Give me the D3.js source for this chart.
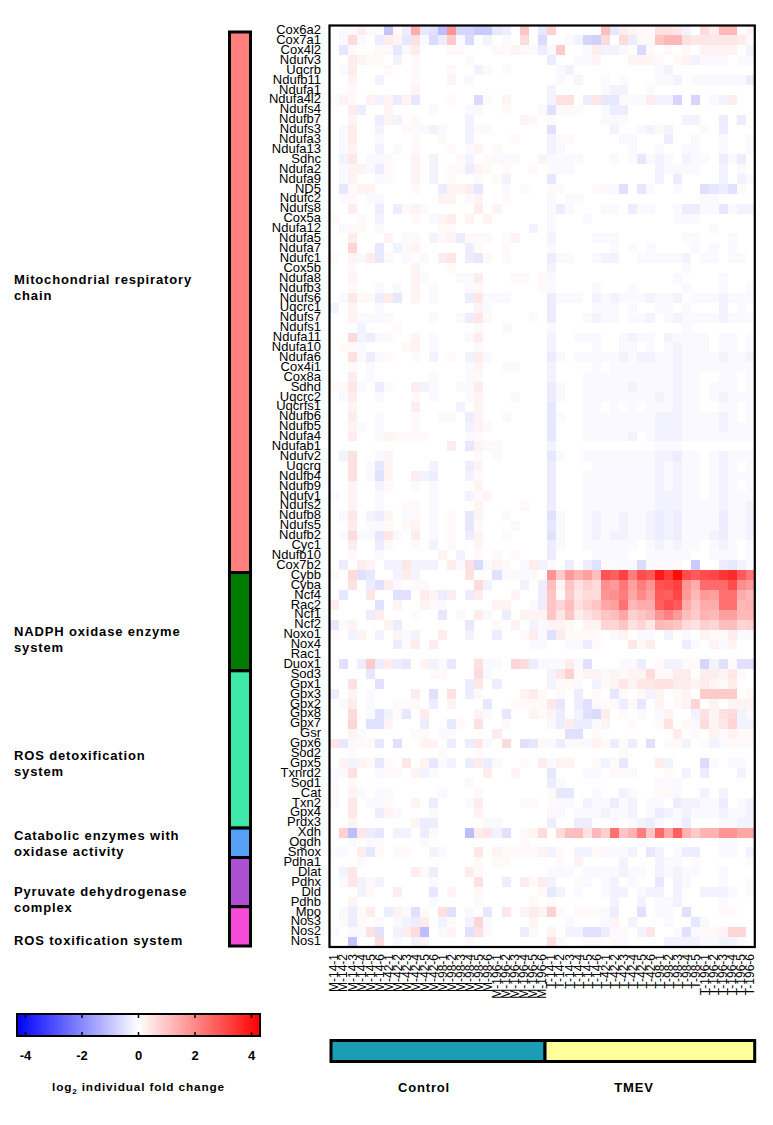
<!DOCTYPE html>
<html>
<head>
  <title>Oxidative stress genes heatmap</title>
  <script src="https://d3js.org/d3.v7.min.js"></script>
  <style>
    body { margin: 0; background: white; }
    svg { display: block; }
    text { font-family: "Liberation Sans", Arial, sans-serif; fill: black; }
    .bold { font-weight: bold; letter-spacing: 0.85px; }
  </style>
</head>
<body>
<script type="text/javascript">
  var w = 773;
  var h = 1125;

  var columns = [
    "M-14-1","M-14-2","M-14-3","M-14-4","M-14-5","M-14-6",
    "M-42-1","M-42-2","M-42-3","M-42-4","M-42-5","M-42-6",
    "M-98-1","M-98-2","M-98-3","M-98-4","M-98-5","M-98-6",
    "M-196-1","M-196-2","M-196-3","M-196-4","M-196-5","M-196-6",
    "T-14-1","T-14-2","T-14-3","T-14-4","T-14-5","T-14-6",
    "T-42-1","T-42-2","T-42-3","T-42-4","T-42-5","T-42-6",
    "T-98-1","T-98-2","T-98-3","T-98-4","T-98-5",
    "T-196-1","T-196-2","T-196-3","T-196-4","T-196-5","T-196-6"
  ];

  var mitoGenes = ["Cox6a2","Cox7a1","Cox4l2","Ndufv3","Uqcrb","Ndufb11","Ndufa1","Ndufa4l2","Ndufs4","Ndufb7","Ndufs3","Ndufa3","Ndufa13","Sdhc","Ndufa2","Ndufa9","ND5","Ndufc2","Ndufs8","Cox5a","Ndufa12","Ndufa5","Ndufa7","Ndufc1","Cox5b","Ndufa8","Ndufb3","Ndufs6","Uqcrc1","Ndufs7","Ndufs1","Ndufa11","Ndufa10","Ndufa6","Cox4i1","Cox8a","Sdhd","Uqcrc2","Uqcrfs1","Ndufb6","Ndufb5","Ndufa4","Ndufab1","Ndufv2","Uqcrq","Ndufb4","Ndufb9","Ndufv1","Ndufs2","Ndufb8","Ndufs5","Ndufb2","Cyc1","Ndufb10","Cox7b2"];
  var nadphGenes = ["Cybb","Cyba","Ncf4","Rac2","Ncf1","Ncf2","Noxo1","Nox4","Rac1","Duox1"];
  var detoxGenes = ["Sod3","Gpx1","Gpx3","Gpx2","Gpx8","Gpx7","Gsr","Gpx6","Sod2","Gpx5","Txnrd2","Sod1","Cat","Txn2","Gpx4","Prdx3"];
  var catabolicGenes = ["Xdh","Ogdh","Smox"];
  var pyruvateGenes = ["Pdha1","Dlat","Pdhx","Dld","Pdhb"];
  var toxGenes = ["Mpo","Nos3","Nos2","Nos1"];

  // log2 fold change, one row per gene, one value per column
  var mitoValues = [
    [0,-.1,-.1,.3,.1,-.1, -1,.1,-.3,1.4,-.4,-.5, -1.1,1.8,-.7,-.7,-.9,-.9, -.4,-.3,0,1,0,-.4, .8,0,0,0,0,0, 1.1,-.4,.3,.2,.1,.1, .5,.5,.4,-.2,0, .6,.3,1.2,1.2,0,.2],
    [0,-.1,.6,-.1,0,-.3, .3,.2,-.4,.5,-.1,-.6, -.3,.9,-.1,-.6,0,-.2, 0,-.1,0,.6,0,-.6, 0,0,-.1,-.2,-.7,-.8, .6,0,.6,-.3,.1,.1, 1,1.2,1.2,.5,.4, .4,.4,.4,.4,.3,.1],
    [0,-.4,.1,0,0,.1, .1,-.4,-.1,.3,0,0, 0,.1,.1,0,0,0, .1,.1,.2,.1,-.1,-.3, -.1,.9,0,0,-.1,.3, -.2,-.2,-.1,0,-.6,.1, 0,.1,0,.1,0, .2,.2,.2,.2,0,-.2],
    [0,0,.3,.2,.1,.1, 0,-.2,0,.1,0,0, 0,0,0,-.1,0,0, 0,0,0,0,0,0, -.3,0,0,-.1,-.1,.2, 0,0,0,.2,.2,.2, .1,0,.1,.2,-.2, -.1,-.1,-.1,0,-.1,-.1],
    [0,-.1,.3,0,0,0, .1,0,0,.1,0,0, 0,.1,0,0,-.2,.1, 0,.1,0,0,0,0, 0,-.1,-.2,0,0,0, 0,0,0,0,0,0, -.1,-.2,0,0,0, 0,0,0,0,0,0],
    [0,0,.2,0,0,-.2, 0,0,0,.1,0,0, 0,.2,0,-.1,0,0, 0,0,0,0,0,0, 0,-.1,0,.2,0,0, .1,0,.1,0,0,0, -.1,-.1,-.2,0,-.1, -.1,-.1,-.1,-.1,-.1,-.3],
    [0,0,.1,0,0,0, 0,0,0,.2,0,0, 0,0,0,0,0,0, 0,0,0,0,0,0, -.2,0,0,0,0,0, -.1,-.2,-.2,0,0,-.1, 0,0,0,0,0, 0,0,0,0,0,0],
    [-.1,.2,.1,0,.2,-.2, .2,-.3,.2,-.4,0,0, 0,.1,0,0,-.6,.1, 0,.2,0,0,0,0, -.2,.5,.5,0,-.3,.4, -.4,-.4,.1,-.1,-.1,.3, -.2,-.2,-.7,0,-.7, 0,-.1,-.2,.3,0,0],
    [0,0,.3,-.3,0,0, .2,0,0,0,0,-.1, 0,0,0,-.1,-.1,0, 0,.1,0,0,0,-.1, -.5,.1,.1,.1,0,0, -.1,-.3,-.3,0,0,0, 0,0,0,0,0, 0,0,0,0,0,0],
    [0,0,.2,0,0,-.3, .2,-.2,0,.1,0,0, 0,0,0,-.2,0,0, 0,0,0,.2,.1,0, .1,0,0,0,0,0, -.1,-.1,.1,0,0,0, 0,0,0,-.2,-.2, 0,0,-.3,0,-.3,0],
    [0,-.1,.3,0,0,-.2, 0,0,.1,.1,-.1,-.2, -.1,0,0,-.2,.1,.1, 0,0,0,0,0,0, -.5,0,0,0,0,0, 0,-.2,0,0,-.1,-.2, .1,-.2,0,0,0, .1,0,-.3,0,0,0],
    [0,-.1,.3,0,0,-.1, 0,0,0,.1,0,0, .1,0,0,-.2,0,0, 0,0,.1,0,0,0, -.2,-.1,.1,0,0,0, 0,0,-.1,-.1,0,0, 0,-.3,0,0,-.1, 0,0,-.1,0,0,-.1],
    [0,-.1,.2,0,0,-.2, 0,-.1,0,.1,0,0, 0,.1,0,-.1,.2,0, .1,0,0,0,0,0, -.2,-.1,0,0,0,0, 0,0,0,-.1,0,0, -.1,0,0,-.1,-.1, 0,0,-.1,0,0,-.1],
    [0,-.2,.4,0,-.1,-.1, .1,0,0,.2,0,-.2, 0,0,.1,-.2,0,.1, -.1,-.1,.1,0,0,.2, -.1,-.1,-.1,-.1,0,0, 0,-.1,0,-.1,-.4,-.1, -.2,-.1,0,-.2,-.1, -.1,0,-.3,-.1,-.3,0],
    [0,-.1,.2,.2,-.1,-.3, .1,0,0,.2,0,-.2, 0,.1,.1,-.3,.2,.1, 0,.1,0,0,.1,0, -.1,-.1,-.1,0,0,0, 0,0,0,0,0,0, -.2,-.1,-.1,-.1,-.1, 0,0,-.2,0,-.1,0],
    [0,-.1,.2,0,0,-.1, .1,0,0,.2,0,-.2, 0,.1,0,0,.1,0, .1,-.2,0,0,0,0, -.4,0,0,0,0,0, 0,0,0,0,0,0, -.2,0,-.3,0,0, 0,0,-.2,0,-.2,-.1],
    [0,-.4,.1,.2,.2,0, 0,0,0,.1,0,0, -.3,.2,.2,.3,-.4,0, 0,-.1,0,.1,0,0, .1,.1,0,0,0,.1, -.1,-.1,-.5,0,-.4,-.1, 0,0,-.1,0,0, -.5,-.4,-.3,-.5,.1,0],
    [0,-.1,.1,0,-.1,-.1, 0,0,0,0,0,0, .2,.2,0,-.1,.2,0, 0,.1,0,0,0,0, -.1,0,-.1,.1,0,0, 0,0,0,0,0,0, 0,0,0,0,0, -.1,-.1,0,0,0,0],
    [0,0,.3,0,0,-.3, 0,-.3,.1,.2,.1,0, 0,0,0,0,.3,0, .2,0,0,0,0,0, -.1,-.3,-.1,0,0,0, -.1,-.1,0,-.3,-.1,-.1, 0,0,-.1,-.3,-.3, -.1,-.1,-.4,-.1,-.2,-.2],
    [.1,0,0,.1,0,-.2, 0,0,0,.1,0,-.1, .2,.3,0,.2,0,.2, 0,0,0,0,0,0, -.1,0,0,0,-.1,0, 0,0,0,0,0,0, 0,0,-.1,-.1,-.1, 0,0,0,0,0,0],
    [0,-.1,.1,.1,0,-.1, 0,0,0,0,0,0, .1,.1,0,0,0,0, 0,0,0,0,-.2,0, -.1,0,0,0,0,0, 0,0,0,0,0,0, 0,0,0,0,0, 0,-.1,0,0,0,0],
    [0,0,.3,0,0,0, .2,0,-.1,.1,0,-.2, .1,.2,-.3,.1,.1,.1, 0,.1,.2,0,0,0, -.2,0,0,0,0,-.1, -.1,-.1,0,0,0,0, 0,0,0,-.1,-.1, 0,0,0,-.1,0,0],
    [0,0,.7,0,0,-.4, 0,-.2,.1,.2,0,0, 0,0,0,-.3,.1,0, 0,.1,0,0,0,0, -.1,0,0,0,0,0, 0,-.1,0,-.1,0,-.1, 0,0,0,0,-.1, 0,-.1,0,-.1,0,0],
    [.1,0,.2,-.1,.3,-.4, .1,0,-.1,0,-.1,0, .3,.4,0,-.3,-.4,.1, 0,.1,0,0,0,0, -.3,-.1,-.1,0,0,-.1, -.2,-.2,0,0,-.1,-.1, -.1,-.1,-.1,-.2,0, -.1,-.1,0,-.1,-.1,0],
    [0,0,.1,0,0,0, 0,0,0,.2,0,0, 0,.1,0,0,0,0, 0,0,0,0,0,0, -.2,0,0,0,0,0, 0,0,0,0,0,0, 0,0,0,-.1,0, 0,0,0,0,0,0],
    [0,0,.2,0,0,0, 0,0,0,.2,-.1,0, 0,0,-.1,-.1,.3,0, 0,0,.1,.1,0,.1, -.1,0,0,0,0,0, 0,0,0,0,0,0, 0,0,-.1,0,0, 0,0,-.1,0,0,0],
    [0,0,.1,0,0,-.1, 0,-.1,0,.2,0,-.1, 0,0,0,-.1,.1,0, 0,0,0,0,0,.1, -.1,0,0,0,0,-.1, 0,0,0,-.1,0,0, 0,0,0,-.1,0, 0,0,-.1,0,0,-.1],
    [0,-.1,.4,.1,.1,-.3, .3,-.4,0,.2,0,-.1, 0,0,0,-.3,.4,-.1, -.1,-.1,0,0,0,0, -.3,-.1,-.1,-.1,0,-.2, -.1,-.2,-.1,-.1,-.1,-.2, -.1,-.1,-.2,0,-.1, -.1,-.1,-.2,-.1,-.1,-.1],
    [-.2,0,.2,0,0,-.1, 0,0,0,0,0,0, 0,0,0,0,.2,-.1, 0,0,0,0,0,0, -.3,0,0,0,0,-.1, -.1,-.1,0,-.1,0,0, -.1,-.1,0,-.1,0, 0,0,-.2,0,-.1,0],
    [0,0,.2,-.1,-.1,-.1, .1,0,0,0,0,-.1, 0,0,-.1,-.3,.4,.1, 0,0,0,0,.1,0, -.3,0,0,0,-.1,-.2, -.1,-.1,0,-.1,-.1,-.2, 0,-.1,-.2,-.1,-.1, -.1,-.1,-.2,-.1,-.1,-.1],
    [0,0,0,-.2,0,0, 0,.1,0,0,0,0, 0,0,0,0,.1,0, 0,-.1,0,0,0,0, -.1,0,0,0,0,0, 0,0,0,0,0,0, 0,0,0,-.1,0, 0,0,0,0,0,0],
    [0,0,.6,-.2,-.3,-.1, .1,0,0,.2,0,-.1, 0,0,0,-.1,.3,0, 0,0,0,0,0,0, -.2,0,0,-.1,-.1,-.1, 0,0,-.1,-.2,-.1,-.1, 0,-.2,-.1,-.1,-.1, -.1,0,-.1,-.1,0,-.1],
    [0,.1,.1,-.1,0,0, 0,0,.1,.2,0,-.1, 0,0,0,0,.1,0, 0,0,0,0,0,0, -.2,0,0,0,0,-.1, 0,0,-.1,-.1,0,-.1, 0,-.1,-.2,-.1,-.1, -.1,0,-.1,-.1,0,-.1],
    [0,0,.5,-.1,-.3,-.1, .1,0,0,.1,0,-.2, 0,.1,0,-.2,.3,-.1, 0,0,0,0,0,0, -.3,-.1,0,-.1,-.1,-.1, -.1,-.1,-.2,-.1,-.2,-.2, -.1,-.1,-.2,-.1,-.1, -.1,-.1,-.2,-.1,-.1,-.2],
    [0,0,.1,0,-.1,0, 0,0,0,0,0,0, 0,0,0,-.1,.2,0, 0,-.1,-.1,0,0,0, -.2,0,0,0,0,-.1, 0,-.1,-.1,-.1,-.1,-.1, -.1,-.1,-.2,-.1,-.1, -.1,-.1,-.1,-.1,-.1,-.1],
    [0,0,.3,0,-.1,0, 0,0,0,0,0,-.1, 0,0,0,-.1,.1,0, 0,0,0,0,0,0, -.2,0,0,0,-.1,-.1, -.1,-.1,-.1,-.1,-.1,-.1, -.1,-.1,-.2,-.1,-.1, 0,0,-.1,-.1,0,-.1],
    [.1,.1,.4,-.1,0,-.3, .1,0,0,.3,-.2,-.1, 0,0,-.1,-.1,.3,0, 0,0,0,0,0,0, -.3,-.1,0,0,-.1,-.1, -.1,-.1,-.1,-.2,-.1,-.1, -.1,-.1,-.2,-.1,-.1, 0,-.1,-.1,-.1,0,-.1],
    [0,-.1,.3,0,0,-.1, 0,0,0,.1,0,-.1, 0,0,0,-.1,.2,0, 0,0,-.1,0,0,0, -.3,-.1,0,0,-.1,-.1, -.1,-.1,-.1,-.1,-.1,-.1, -.2,-.1,-.2,-.1,-.1, 0,-.1,-.2,-.1,-.1,-.1],
    [0,0,.2,0,0,0, 0,0,0,.3,0,0, 0,0,-.2,0,.2,0, 0,0,0,0,0,0, -.4,0,0,0,-.1,-.1, 0,-.1,0,-.1,0,-.1, -.1,-.1,-.2,-.1,-.1, 0,0,-.1,-.1,0,-.1],
    [0,0,.3,0,0,-.1, 0,0,0,.1,0,0, .1,.1,0,-.3,.2,0, 0,-.1,0,0,0,0, -.4,-.1,0,0,-.1,-.1, -.1,-.1,-.1,-.1,-.1,-.1, -.2,-.2,-.2,-.1,-.1, -.1,-.1,-.2,-.1,0,-.1],
    [0,0,.2,-.1,0,-.1, 0,0,0,.1,0,0, 0,0,0,-.2,.2,-.1, 0,0,0,0,0,0, -.4,0,0,0,-.1,-.1, -.1,-.1,-.1,-.1,-.1,-.1, -.2,-.2,-.2,-.1,-.1, -.1,-.1,-.2,-.1,-.1,-.1],
    [0,0,.3,0,0,-.1, .2,.1,.1,.1,.1,0, 0,0,0,-.1,.1,0, 0,0,0,0,0,0, -.4,0,0,0,-.1,-.1, -.1,-.1,-.1,-.2,0,-.1, -.2,-.2,-.2,-.1,-.1, -.1,-.1,-.1,-.1,-.1,-.1],
    [0,0,0,0,0,0, 0,0,0,0,0,0, 0,.3,0,-.4,.2,-.1, .1,0,0,0,0,0, -.2,0,0,0,0,0, 0,0,0,0,0,0, -.1,-.1,-.1,0,0, 0,0,0,0,0,0],
    [0,-.2,.5,0,0,-.1, .2,0,0,0,0,0, 0,0,0,0,.1,0, -.1,0,0,0,0,0, -.4,-.1,0,0,-.1,-.1, -.1,-.1,-.1,-.1,-.1,-.1, -.2,-.2,-.3,-.1,-.1, 0,-.1,-.2,-.1,-.1,-.1],
    [0,0,.5,0,-.1,-.4, .2,0,0,0,0,-.2, 0,0,0,-.3,.2,0, 0,0,0,0,0,0, -.3,0,0,0,0,-.1, -.1,-.1,-.1,-.1,-.1,-.1, -.2,-.1,-.2,-.1,-.1, 0,-.1,-.2,-.1,0,-.1],
    [0,0,.5,0,-.1,-.5, .2,0,0,.3,-.2,-.3, 0,0,0,-.2,.1,0, 0,0,0,0,0,0, -.3,0,0,0,-.1,-.1, -.1,-.1,-.1,-.1,-.1,-.1, -.2,-.1,-.2,-.1,-.1, 0,-.1,-.2,-.1,-.1,-.1],
    [0,0,.2,0,0,-.2, .1,0,0,.1,0,-.1, 0,0,0,0,.2,0, 0,0,0,0,0,0, -.3,0,0,0,-.1,-.1, -.1,-.1,-.1,-.1,-.1,-.1, -.2,-.1,-.2,-.1,-.1, 0,-.1,-.2,-.1,0,-.1],
    [-.1,0,.2,0,0,-.1, 0,0,0,0,0,-.1, 0,0,0,-.2,.1,.2, 0,0,0,0,0,0, -.3,0,0,0,-.1,-.1, -.1,-.1,-.1,-.1,-.1,-.1, -.2,-.2,-.2,-.1,-.1, 0,-.1,-.2,-.1,-.1,-.1],
    [0,0,.2,0,0,-.1, 0,0,.1,.1,0,-.1, 0,0,0,0,.2,0, 0,0,0,.1,0,0, -.3,0,0,0,-.1,-.1, -.1,-.1,-.1,-.1,-.1,-.1, -.2,-.2,-.2,-.1,-.1, -.1,-.1,-.2,-.1,-.1,-.2],
    [0,-.1,.4,0,-.2,-.3, .2,0,-.1,.1,0,-.1, 0,.1,0,-.4,.2,0, 0,-.1,0,0,0,0, -.5,-.1,0,0,-.1,-.2, -.1,-.1,-.2,-.1,-.1,-.2, -.3,-.2,-.3,-.1,-.1, -.1,-.1,-.3,-.1,-.1,-.2],
    [0,0,.3,0,-.1,-.1, .1,0,.1,.2,0,-.1, 0,.1,0,-.4,.1,0, 0,0,-.1,0,0,0, -.4,-.1,0,0,-.1,-.2, -.1,-.1,-.2,-.1,-.1,-.2, -.3,-.2,-.3,-.1,-.1, -.1,-.1,-.3,-.1,-.1,-.2],
    [0,-.1,.6,-.1,-.1,-.4, .4,-.1,0,.3,0,-.1, 0,.1,0,-.3,.2,0, 0,.1,0,0,0,0, -.5,-.1,0,0,-.1,-.2, -.1,-.2,-.2,-.1,-.1,-.2, -.3,-.2,-.3,-.1,-.1, -.1,-.2,-.3,-.1,-.1,-.2],
    [0,0,.3,0,0,-.3, .1,0,0,.1,0,-.2, 0,.1,0,0,.2,0, 0,0,0,0,0,0, -.3,-.1,0,0,-.1,-.1, -.1,-.1,-.1,-.1,0,-.1, -.2,-.1,-.2,-.1,-.1, 0,-.1,-.2,-.1,0,-.1],
    [0,0,.1,0,0,-.1, 0,0,0,0,0,0, .2,0,-.2,0,.1,0, .1,0,.1,0,0,0, -.3,0,0,0,0,-.1, -.1,-.1,-.1,0,0,-.1, -.1,-.1,-.1,-.1,0, 0,-.1,-.1,-.1,0,-.1],
    [0,-.3,0,.3,.2,0, -.2,-.2,.4,-.2,-.2,-.2, 0,.3,-.1,.5,-.6,-.1, .2,.1,0,-.1,.3,-.2, -.1,0,-.3,0,-.3,-.5, .1,-.1,-.1,-.1,-.6,-.1, .1,-.1,.1,0,-.9, 0,0,-.3,-.4,-.2,-.1]
  ];
  var nadphValues = [
    [.1,0,.6,-.5,-.4,0, 0,-.2,.3,-.2,0,0, 0,0,0,.5,0,0, -.5,-.1,.1,-.1,.1,0, 1.8,.9,1.7,1.3,1.6,1.1, 2.9,2.7,3.2,2.2,3,2.8, 3.9,3.3,4.1,3,2.8, 3,3.1,3.4,3.6,2.8,2.3],
    [0,0,.5,0,-.3,-.5, .3,-.1,0,.1,-.1,0, 0,0,0,0,.6,-.2, 0,0,0,-.2,0,-.3, 1.1,.2,1,.5,.8,.6, 1.9,1.7,2.3,1.6,2.2,1.8, 2.9,3,3.2,1.8,1.4, 2.5,2.5,2.5,3,1.9,1.7],
    [0,-.4,0,0,.4,0, 0,-.5,-.5,0,.3,.2, -.3,.3,0,-.3,.3,0, 0,0,.2,0,0,-.3, 1,.1,.9,.4,.6,.6, 1.8,1.9,2.2,1.5,2,1.6, 2.8,2.7,3.1,1.7,1.2, 1.7,1.6,2.4,2.4,1.4,1.2],
    [.3,0,0,0,0,-.5, 0,.2,0,0,.2,.1, -.1,0,0,0,0,0, .2,.2,0,0,-.1,-.3, 1,.7,1.1,.5,.8,1, 1.5,1.6,2.4,1.2,1.4,1.4, 2.7,3,2.8,1.4,1, 1.4,1.4,2.4,2.4,1.2,1.3],
    [0,0,0,0,-.3,.3, 0,0,0,.1,0,0, -.4,0,-.1,0,.3,-.1, 0,-.3,0,.2,.2,.2, 1,.4,1,.3,.5,.7, 1,1.1,1.5,.8,1,1.2, 1.8,2.1,1.7,1.1,.9, 1.3,1.2,1.6,1.6,1.2,1.2],
    [-.4,.1,.2,0,0,0, .2,-.3,0,0,0,0, 0,0,0,-.4,0,0, .1,0,.2,0,-.2,-.1, .2,.2,.1,0,.2,.2, .7,.7,1,.5,.7,.4, 1.2,1.1,1,.6,.5, .8,.7,1.1,1.1,.7,.8],
    [.1,0,-.2,.2,0,-.2, 0,.2,-.1,-.2,0,0, .3,0,0,-.2,0,0, -.3,0,0,.1,.3,-.1, -.5,.3,.1,.1,.1,.1, 0,.1,.2,0,-.1,-.1, 0,-.2,0,-.1,0, .2,.1,.1,.3,-.1,-.1],
    [0,0,0,0,0,0, 0,-.3,.1,.3,0,.3, 0,0,0,0,0,0, 0,0,0,0,-.1,-.1, 0,0,-.1,-.1,-.3,.1, 0,0,0,.4,.1,.3, 0,0,0,-.3,-.1, 0,.2,-.1,.2,0,0],
    [0,0,0,0,0,0, 0,0,0,0,0,0, 0,0,0,0,0,0, 0,0,0,0,0,0, 0,0,0,0,0,0, 0,0,0,0,0,0, 0,0,0,0,0, 0,0,0,0,0,0],
    [0,-.5,0,-.3,.9,-.3, .3,-.3,-.4,0,.2,-.2, -.1,-.4,0,0,.5,-.1, -.1,0,.7,.6,-.3,-.1, -.1,-.1,.3,-.1,-.5,0, 0,0,-.1,-.1,-.3,0, .1,-.2,-.2,.1,.1, -.7,-.2,-.5,.1,-.5,-.5]
  ];
  var detoxValues = [
    [0,0,0,0,-.4,0, 0,0,0,0,0,.1, .1,0,0,0,.6,-.1, 0,0,0,0,0,0, -.2,.4,.8,.1,.2,.2, -.1,.2,.1,.2,.2,.6, .1,.1,.3,.3,0, .3,.3,.2,.4,.1,0],
    [0,0,.5,0,0,-.5, 0,0,0,0,0,0, 0,0,0,-.3,.4,0, -.3,0,0,0,0,0, -.2,.1,.1,-.1,0,-.2, .1,.2,.4,.2,.4,.4, .5,.5,.3,.3,.2, .3,.2,.1,.3,0,0],
    [-.3,0,.2,0,-.1,0, 0,0,0,.3,0,-.5, 0,.5,0,-.3,.1,0, 0,0,0,.2,.3,.1, 0,.1,0,-.3,0,.1, 0,-.4,.1,0,.1,-.2, .2,0,.1,.2,0, .9,.9,.9,.9,0,.1],
    [0,-.1,.3,0,-.1,0, 0,.1,.1,.1,0,-.3, 0,.2,0,0,0,-.4, 0,0,.1,.1,.1,.1, .4,-.4,0,-.3,-.5,-.1, .1,.1,-.3,.1,-.4,0, .2,0,.1,.2,.7, 0,.2,0,.2,.2,.2],
    [0,0,.6,0,-.1,-.5, -.2,.1,-.4,0,.3,0, 0,0,0,0,.2,-.1, 0,-.4,0,0,.2,.1, .2,-.3,0,-.2,-.5,-.6, .3,0,.1,0,-.1,0, -.1,.2,0,0,-.2, .5,.2,.5,.6,-.2,-.1],
    [0,0,.7,0,-.5,-.5, .2,0,0,0,-.3,0, 0,-.4,.1,0,.5,0, 0,.1,0,0,0,0, -.1,-.3,.3,-.3,-.3,-.1, .2,0,0,.1,0,0, .1,.5,0,.1,-.1, .6,.2,.4,.7,-.2,-.2],
    [0,0,.2,-.1,0,0, 0,0,0,.1,.1,0, -.1,-.1,0,0,0,0, .3,0,0,0,0,0, 0,0,-.5,-.5,0,.1, 0,0,0,0,0,0, 0,0,.3,0,.1, 0,.2,.1,.2,.1,.1],
    [.4,-.4,-.1,.1,.1,-.4, 0,-.5,0,0,.2,.2, 0,-.3,0,-.3,.4,-.1, 0,.6,0,-.5,-.4,.1, -.1,-.3,-.1,.1,-.1,.2, .1,-.3,.1,-.3,0,-.5, 0,.1,.1,-.2,0, .1,-.2,-.1,.1,.1,.1],
    [0,0,.1,0,0,0, 0,0,0,0,0,0, .1,0,0,0,.1,0, 0,0,0,0,0,0, 0,0,0,0,0,0, 0,0,.1,0,0,0, 0,0,0,0,0, 0,0,0,0,0,0],
    [0,.2,-.2,.2,.1,-.4, .1,0,.4,0,.2,-.4, -.1,-.2,0,-.3,.3,-.3, -.1,0,0,.1,0,.3, -.1,.2,.2,0,0,.1, -.2,.1,-.4,0,0,0, .3,-.2,0,0,0, -.6,-.1,0,-.1,-.1,0],
    [-.1,-.1,.5,0,0,-.1, .1,.1,0,.2,-.2,-.1, 0,0,0,0,0,.3, 0,0,.2,0,0,0, -.4,0,0,0,-.1,-.1, 0,.1,.1,-.1,0,0, 0,.1,0,-.2,0, -.3,0,0,0,-.2,0],
    [-.1,0,.1,0,0,0, 0,0,0,0,0,0, 0,0,0,-.1,0,0, 0,0,0,0,0,0, -.3,-.1,0,0,0,0, 0,0,0,0,0,0, -.1,-.1,-.1,0,0, 0,0,0,0,0,0],
    [.1,0,.2,-.1,0,-.1, -.1,0,0,0,0,0, -.1,0,0,0,.1,0, 0,0,0,0,0,0, .1,-.4,-.4,0,0,-.1, 0,0,-.2,.1,0,0, .1,.1,-.1,0,0, -.2,0,-.2,0,0,0],
    [-.1,0,.4,0,-.1,-.1, .1,0,0,.2,0,-.3, 0,0,0,-.1,.3,0, 0,0,0,.1,.1,0, .1,-.1,-.1,0,-.2,-.1, -.1,-.3,-.1,-.2,0,-.1, -.1,0,-.3,-.2,-.2, -.1,-.1,-.3,0,-.1,-.2],
    [0,0,.4,0,0,-.3, .2,-.1,0,0,0,-.1, 0,0,0,0,.2,0, 0,0,0,0,0,0, -.1,-.1,0,-.1,-.1,-.1, -.2,-.1,-.1,-.2,0,-.1, -.3,-.2,-.1,-.2,-.1, -.1,-.1,-.2,-.1,-.1,-.2],
    [0,0,.2,0,0,0, 0,0,0,.2,-.3,-.3, 0,0,0,0,0,-.1, -.1,0,0,0,0,0, -.3,0,0,-.3,-.3,0, 0,-.1,0,-.1,-.2,-.3, -.1,0,-.1,-.3,0, 0,0,-.1,-.1,-.2,-.2]
  ];
  var catabolicValues = [
    [0,.8,-1.1,.4,-.3,-.4, 0,-.2,-.2,0,-.3,.1, 0,0,0,-1.1,.3,.4, -.2,-.5,0,.1,.2,.6, 0,.6,1.1,1.1,.5,1.2, .8,2.4,1,1.3,2.2,1, 2.5,1.5,2.7,1.3,.9, 1.3,1.3,1.8,1.8,1.5,1.5],
    [0,0,-.1,0,-.1,.1, 0,0,0,0,.1,0, 0,0,0,0,0,0, 0,0,0,.1,0,0, 0,0,0,0,0,0, 0,0,0,0,-.1,0, 0,0,0,0,0, 0,0,-.1,-.1,0,0],
    [-.1,-.1,0,.3,-.4,.1, 0,.1,.1,0,0,-.2, -.1,0,0,0,.4,0, .2,.1,.1,.1,.1,.2, -.2,.1,0,-.2,-.2,.1, -.1,-.1,-.1,-.2,0,-.4, -.2,0,-.1,-.3,-.3, 0,0,-.1,-.1,0,-.2]
  ];
  var pyruvateValues = [
    [0,0,0,-.1,0,0, 0,0,0,0,0,0, 0,0,0,0,.1,0, .1,.1,0,0,0,0, 0,.1,0,.2,0,0, 0,0,-.2,0,0,0, -.2,-.1,-.1,0,.1, 0,0,0,0,0,.1],
    [0,-.2,.4,0,0,0, 0,0,0,.3,.1,-.3, 0,0,0,.3,.1,0, 0,0,0,0,0,0, -.1,-.1,-.1,0,-.1,-.1, -.1,-.1,-.2,-.1,-.1,0, -.2,-.1,-.2,-.1,-.1, 0,0,-.1,0,0,0],
    [0,-.1,.4,-.2,.1,-.2, 0,0,0,0,0,-.1, 0,0,0,0,.5,0, 0,-.3,0,.3,.1,.3, -.2,0,0,.1,-.1,0, -.1,-.2,0,-.1,0,0, -.4,0,-.2,-.1,0, 0,0,-.1,0,0,.1],
    [0,0,0,-.2,.1,0, 0,.3,0,0,0,-.4, 0,.2,0,0,.1,0, 0,0,0,0,0,.1, -.4,-.2,0,-.1,0,0, -.1,-.2,-.2,0,-.1,-.2, -.2,0,-.2,0,0, -.2,-.2,-.2,-.1,0,-.1],
    [0,0,.2,0,0,0, 0,0,0,0,0,-.1, 0,0,0,0,.1,0, 0,0,0,0,.1,0, .1,0,0,0,0,0, 0,-.2,0,0,-.2,0, -.1,-.1,-.2,0,0, 0,0,-.1,0,0,0]
  ];
  var toxValues = [
    [0,-.1,-.3,.1,.3,0, -.3,.2,.1,-.5,.1,0, .5,-.5,0,-.1,0,-.4, 0,.4,0,.2,.3,.2, .8,.1,0,.1,.1,.1, -.1,-.3,0,0,-.5,0, -.1,-.1,0,-.5,0, 0,0,.1,.1,0,0],
    [0,.1,-.3,.1,0,-.1, 0,-.1,-.2,-.3,.3,0, -.2,.1,0,-.2,.7,-.1, 0,0,0,0,.2,0, 0,0,-.1,0,0,0, -.1,.2,0,-.2,0,0, 0,-.1,0,0,-.4, -.1,0,0,0,0,0],
    [-.1,0,-.1,-.1,.5,-.5, 0,-.2,.3,.6,-1.1,0, -.1,.2,0,-.5,.5,.1, 0,0,0,-.3,.1,0, .2,0,-.2,-.2,-.5,-.5, -.3,-.1,.1,0,-.2,.4, 0,0,-.1,-.5,-.1, .1,.1,.2,.7,.7,0],
    [0,0,-1,0,0,.6, 0,-.1,0,-.2,.2,0, 0,0,0,.1,0,0, 0,0,0,0,0,0, .5,.1,0,0,.1,.1, 0,.1,-.1,0,0,0, 0,-.2,-.2,-.2,-.2, -.1,-.1,-.2,-.2,-.1,0]
  ];

  var groupNames = [
    ["Mitochondrial respiratory","chain"],
    ["NADPH oxidase enzyme","system"],
    ["ROS detoxification","system"],
    ["Catabolic enzymes with","oxidase activity"],
    ["Pyruvate dehydrogenase","complex"],
    ["ROS toxification system"]
  ];
  var groupColors = ["#ff7f7f","#007a00","#3de8a8","#55a0f5","#ac4fd0","#f54bd8"];
  var groupGenes = [mitoGenes,nadphGenes,detoxGenes,catabolicGenes,pyruvateGenes,toxGenes];
  var groupValues = [mitoValues,nadphValues,detoxValues,catabolicValues,pyruvateValues,toxValues];
  var groupLabelY = [279,631,755,835,891,940];

  var conditions = ["Control","TMEV"];
  var conditionCounts = [24,23];
  var conditionColors = ["#1a9db5","#ffff99"];
  var conditionLabelX = [424,634];
  var legendTicks = [-4,-2,0,2,4];

  var genes = d3.merge(groupGenes);
  var values = d3.merge(groupValues);

  var svg = d3.select("body").append("svg")
    .attr("width", w)
    .attr("height", h);

  var x = d3.scaleBand().domain(columns).range([329.7, 754.7]);
  var y = d3.scaleBand().domain(genes).range([25.5, 946.5]);
  var color = d3.scaleLinear()
    .domain([-4.3, 0, 4.3])
    .range(["#0000ff", "#ffffff", "#ff0000"]);

  // heatmap cells
  var rows = svg.append("g").selectAll("g")
    .data(values)
    .enter()
    .append("g")
    .attr("transform", function(d, i){ return "translate(0," + y(genes[i]) + ")"; });

  rows.selectAll("rect")
    .data(function(d){ return d; })
    .enter()
    .append("rect")
    .attr("x", function(d, i){ return x(columns[i]); })
    .attr("width", x.bandwidth() + 0.3)
    .attr("height", y.bandwidth() + 0.3)
    .attr("fill", function(d){ return color(d); })
    .attr("shape-rendering", "crispEdges");

  svg.append("rect")
    .attr("x", 329.5).attr("y", 25.5)
    .attr("width", 425.3).attr("height", 921.5)
    .attr("fill", "none")
    .attr("stroke", "black")
    .attr("stroke-width", 2.2);

  // gene labels
  var yAxis = svg.append("g")
    .attr("transform", "translate(329,-0.5)")
    .call(d3.axisLeft(y).tickSize(0).tickPadding(8));
  yAxis.select(".domain").remove();
  yAxis.selectAll("text")
    .attr("font-size", 13)
    .attr("font-family", null);

  // column labels
  var xAxis = svg.append("g")
    .attr("transform", "translate(0,947)")
    .call(d3.axisBottom(x).tickSize(0));
  xAxis.select(".domain").remove();
  xAxis.selectAll("text")
    .attr("font-size", 12)
    .attr("font-family", null)
    .attr("text-anchor", "end")
    .attr("dy", "0.35em")
    .attr("transform", "translate(0,7) rotate(-90)")
    .attr("x", 0)
    .attr("y", 0);

  // group bar on the left
  var barY = d3.scaleLinear().domain([0, genes.length]).range([32, 946]);
  var bar = svg.append("g");
  var start = 0;
  groupGenes.forEach(function(list, i){
    bar.append("rect")
      .attr("x", 229.5)
      .attr("y", barY(start))
      .attr("width", 21)
      .attr("height", barY(start + list.length) - barY(start))
      .attr("fill", groupColors[i])
      .attr("stroke", "black")
      .attr("stroke-width", 3);
    start += list.length;
  });

  groupNames.forEach(function(lines, i){
    lines.forEach(function(line, j){
      svg.append("text")
        .attr("class", "bold")
        .attr("x", 14)
        .attr("y", groupLabelY[i] + j * 16 + 4.5)
        .attr("font-size", 13)
        .text(line);
    });
  });

  // colour legend
  var legendX = d3.scaleLinear().domain([-4.3, 4.3]).range([17, 260]);
  var defs = svg.append("defs");
  var grad = defs.append("linearGradient").attr("id", "fc");
  color.domain().forEach(function(d){
    grad.append("stop")
      .attr("offset", (legendX(d) - 17) / 243)
      .attr("stop-color", color(d));
  });
  svg.append("rect")
    .attr("x", 17).attr("y", 1014)
    .attr("width", 243).attr("height", 22)
    .attr("fill", "url(#fc)")
    .attr("stroke", "black")
    .attr("stroke-width", 2);
  legendTicks.forEach(function(t){
    svg.append("line")
      .attr("x1", legendX(t)).attr("x2", legendX(t))
      .attr("y1", 1014).attr("y2", 1018)
      .attr("stroke", "black").attr("stroke-width", 1.5);
    svg.append("line")
      .attr("x1", legendX(t)).attr("x2", legendX(t))
      .attr("y1", 1032).attr("y2", 1036)
      .attr("stroke", "black").attr("stroke-width", 1.5);
    svg.append("text")
      .attr("x", legendX(t))
      .attr("y", 1059.5)
      .attr("text-anchor", "middle")
      .attr("font-size", 13)
      .attr("font-weight", "bold")
      .text(t);
  });

  var legendTitle = svg.append("text")
    .attr("class", "bold")
    .attr("x", 138.5)
    .attr("y", 1091)
    .attr("text-anchor", "middle")
    .attr("font-size", 11.8);
  legendTitle.append("tspan").text("log");
  legendTitle.append("tspan").attr("dy", 3).attr("font-size", 8).text("2");
  legendTitle.append("tspan").attr("dy", -3).text(" individual fold change");

  // condition bar at the bottom
  var offset = 0;
  var left = 331;
  conditions.forEach(function(c, i){
    var last = columns[offset + conditionCounts[i] - 1];
    var right = x(last) + x.bandwidth() - (i == 0 ? 1.7 : 0);
    svg.append("rect")
      .attr("x", left)
      .attr("y", 1040.5)
      .attr("width", right - left)
      .attr("height", 21)
      .attr("fill", conditionColors[i])
      .attr("stroke", "black")
      .attr("stroke-width", 3);
    svg.append("text")
      .attr("class", "bold")
      .attr("x", conditionLabelX[i])
      .attr("y", 1091.5)
      .attr("text-anchor", "middle")
      .attr("font-size", 13)
      .text(c);
    left = right;
    offset += conditionCounts[i];
  });
</script>
</body>
</html>
